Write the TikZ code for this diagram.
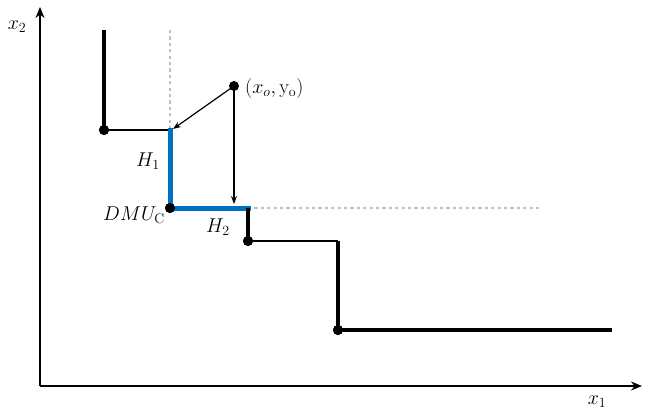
\documentclass[tikz,border=0pt]{standalone}
\usepackage{fix-cm}
\usetikzlibrary{arrows.meta}
\definecolor{frontblue}{RGB}{0,112,192}
\tikzset{
  thickline/.style={line width=3.2pt},
  thinline/.style={line width=1.8pt},
  blueline/.style={line width=5pt, frontblue},
  guide/.style={line width=2.8pt, gray!50, dash pattern=on 3.2pt off 3.2pt},
  dotnode/.style={circle, fill=black, inner sep=0pt, minimum size=10pt},
  axis/.style={line width=2.6pt, -{Stealth[length=11pt,width=9pt]}},
  arr/.style={line width=1.2pt, -{Stealth[length=8pt,width=6pt]}},
  lbl/.style={font=\fontsize{20}{23}\selectfont, inner sep=1pt}
}
\begin{document}
\begin{tikzpicture}[x=1pt,y=-1pt]
\useasboundingbox (0,0) rectangle (646,410);
% axes
\coordinate (O) at (40,386);
\coordinate (ytop) at (40,7);
\coordinate (xend) at (642,386);
\draw[axis] (O) -- (ytop);
\draw[axis] (O) -- (xend);
\node[lbl] (x2) at (17,27) {$x_2$};
\node[lbl] (x1) at (597,402) {$x_1$};
% guides
\coordinate (g1) at (170,30);
\coordinate (g2) at (540,208);
% frontier points
\coordinate (top) at (104,30);
\node[dotnode] (A) at (104,130) {};
\coordinate (Acorner) at (170,130);
\node[dotnode] (C) at (170,208) {};
\coordinate (Ccorner) at (248,208);
\node[dotnode] (B) at (248,241) {};
\coordinate (Bcorner) at (338,241);
\node[dotnode] (D) at (338,330) {};
\coordinate (end) at (612,330);
\draw[guide] (g1) -- (Acorner);
\draw[guide] (Ccorner) -- (g2);
\draw[thickline] (top) -- (A.center);
\draw[thinline] (A.center) -- (Acorner);
\draw[blueline, line cap=rect] (Acorner) -- (C.center) -- (Ccorner);
\draw[thickline] (Ccorner) -- (B.center);
\draw[thinline] (B.center) -- (Bcorner);
\draw[thickline] (Bcorner) -- (D.center);
\draw[thickline] (D.center) -- (end);
\node[dotnode] at (104,130) {};
\node[dotnode] at (170,208) {};
\node[dotnode] at (248,241) {};
\node[dotnode] at (338,330) {};
% observed point
\node[dotnode] (P) at (234,86) {};
\node[lbl, anchor=west] (Plbl) at (244,88) {$(x_o,\mathrm{y_o})$};
\coordinate (Pt1) at (173,129);
\coordinate (Pt2) at (234,204);
\draw[arr] (P.center) -- (Pt1);
\draw[arr] (P.center) -- (Pt2);
% labels
\node[lbl] (H1) at (148,161) {$H_1$};
\node[lbl] (dmu) at (134,215) {$DMU_{\mathrm{C}}$};
\node[lbl] (H2) at (218,227) {$H_2$};
\end{tikzpicture}
\end{document}
